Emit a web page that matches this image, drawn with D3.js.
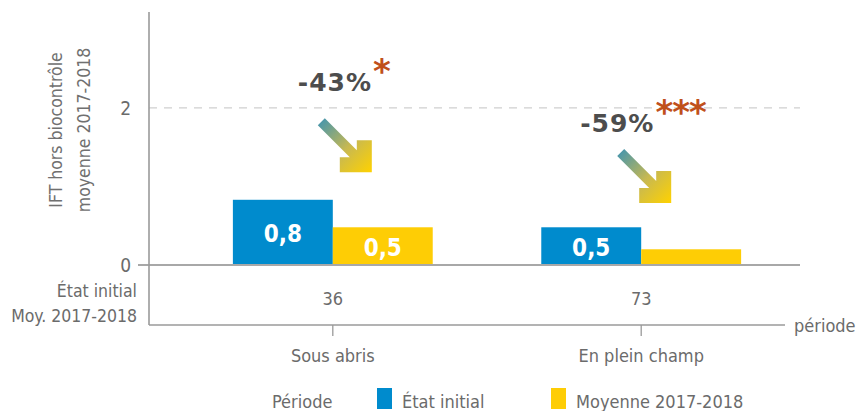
<!DOCTYPE html>
<html>
<head>
<meta charset="utf-8">
<script src="https://cdn.jsdelivr.net/npm/d3@7"></script>
<style>
  body { margin: 0; background: #fff; }
  svg text { font-family: "DejaVu Sans Condensed", "DejaVu Sans", sans-serif; }
</style>
</head>
<body>
<div id="chart"></div>
<script>
// data
const categories = ["Sous abris", "En plein champ"];
const seriesNames = ["État initial", "Moyenne 2017-2018"];
const etatInitial = [0.83, 0.48];
const moyenne = [0.48, 0.2];
const valueLabels = [["0,8", "0,5"], ["0,5", ""]];   // [category][series]
const nExploitations = ["36", "73"];
const changeLabels = ["-43%", "-59%"];
const significance = ["*", "***"];
const yTicks = [0, 2];

const colors = ["#008bcd", "#fecd05"];

const W = 864, H = 411;

const svg = d3.select("#chart").append("svg")
    .attr("width", W)
    .attr("height", H);

// gradient for arrows
const defs = svg.append("defs");
const grad = defs.append("linearGradient")
    .attr("id", "arrowGrad")
    .attr("x1", 0).attr("y1", 0).attr("x2", 1).attr("y2", 1);
grad.append("stop").attr("offset", "0%").attr("stop-color", "#3c93b4");
grad.append("stop").attr("offset", "55%").attr("stop-color", "#c9b950");
grad.append("stop").attr("offset", "100%").attr("stop-color", "#ffd200");

const axisX = 149, axisBottom = 325;

const x = d3.scaleBand()
    .domain(categories)
    .range([149, 825])
    .paddingInner(0.352)
    .paddingOuter(0.272);

const xSub = d3.scaleBand()
    .domain(seriesNames)
    .range([0, x.bandwidth()]);

const y = d3.scaleLinear()
    .domain([0, 3.22])
    .range([265, 12]);

// dashed grid line at 2
svg.append("line")
    .attr("x1", axisX).attr("x2", 800)
    .attr("y1", y(2)).attr("y2", y(2))
    .attr("stroke", "#d0d0d0")
    .attr("stroke-width", 1.3)
    .attr("stroke-dasharray", "8,7");

// y tick labels
svg.selectAll(".ytick")
    .data(yTicks)
    .enter().append("text")
    .attr("class", "ytick")
    .attr("x", 131)
    .attr("y", d => y(d) + 7)
    .attr("text-anchor", "end")
    .style("font-size", "19px")
    .style("fill", "#6b6b6b")
    .text(d => d);

// y axis title
const yTitle = svg.append("text")
    .attr("transform", `translate(0, ${y(0) - 135}) rotate(-90)`)
    .attr("text-anchor", "middle")
    .style("font-size", "17.5px")
    .style("fill", "#707070");
yTitle.append("tspan").attr("x", 0).attr("y", 62).text("IFT hors biocontrôle");
yTitle.append("tspan").attr("x", 0).attr("y", 90).text("moyenne 2017-2018");

// bars
const rows = categories.map((c, i) => ({
    cat: c,
    values: [etatInitial[i], moyenne[i]],
    labels: valueLabels[i]
}));

const groups = svg.selectAll(".grp")
    .data(rows)
    .enter().append("g")
    .attr("class", "grp")
    .attr("transform", d => `translate(${x(d.cat)},0)`);

groups.selectAll("rect")
    .data(d => d.values.map((v, j) => ({ v: v, s: seriesNames[j], j: j, label: d.labels[j] })))
    .enter().append("rect")
    .attr("x", d => xSub(d.s))
    .attr("width", xSub.bandwidth())
    .attr("y", d => y(d.v))
    .attr("height", d => y(0) - y(d.v))
    .attr("fill", d => colors[d.j]);

groups.selectAll(".vlab")
    .data(d => d.values.map((v, j) => ({ v: v, s: seriesNames[j], label: d.labels[j] })))
    .enter().append("text")
    .attr("class", "vlab")
    .attr("x", d => xSub(d.s) + xSub.bandwidth() / 2)
    .attr("y", d => (y(d.v) + y(0)) / 2 + 10)
    .attr("text-anchor", "middle")
    .style("font-size", "24px")
    .style("font-weight", "bold")
    .style("fill", "#fff")
    .text(d => d.label);

// zero line
svg.append("line")
    .attr("x1", 138).attr("x2", 800)
    .attr("y1", y(0)).attr("y2", y(0))
    .attr("stroke", "#a8a8a8")
    .attr("stroke-width", 2);

// vertical axis line + bottom axis
svg.append("line")
    .attr("x1", axisX).attr("x2", axisX)
    .attr("y1", 12).attr("y2", axisBottom)
    .attr("stroke", "#9a9a9a")
    .attr("stroke-width", 1.6);

svg.append("line")
    .attr("x1", axisX).attr("x2", 785)
    .attr("y1", axisBottom).attr("y2", axisBottom)
    .attr("stroke", "#9a9a9a")
    .attr("stroke-width", 1.6);

svg.selectAll(".xtick")
    .data(categories)
    .enter().append("line")
    .attr("class", "xtick")
    .attr("x1", d => x(d) + x.bandwidth() / 2)
    .attr("x2", d => x(d) + x.bandwidth() / 2)
    .attr("y1", axisBottom).attr("y2", axisBottom + 11)
    .attr("stroke", "#9a9a9a")
    .attr("stroke-width", 1.3);

svg.selectAll(".xlab")
    .data(categories)
    .enter().append("text")
    .attr("class", "xlab")
    .attr("x", d => x(d) + x.bandwidth() / 2)
    .attr("y", 362)
    .attr("text-anchor", "middle")
    .style("font-size", "18px")
    .style("fill", "#6b6b6b")
    .text(d => d);

svg.append("text")
    .attr("x", 794).attr("y", 332)
    .style("font-size", "18px")
    .style("fill", "#6b6b6b")
    .text("période");

// row labels and counts
svg.append("text")
    .attr("x", 137).attr("y", 297)
    .attr("text-anchor", "end")
    .style("font-size", "17.5px")
    .style("fill", "#6b6b6b")
    .text("État initial");
svg.append("text")
    .attr("x", 137).attr("y", 322)
    .attr("text-anchor", "end")
    .style("font-size", "17.5px")
    .style("fill", "#6b6b6b")
    .text("Moy. 2017-2018");

svg.selectAll(".nlab")
    .data(nExploitations)
    .enter().append("text")
    .attr("class", "nlab")
    .attr("x", (d, i) => x(categories[i]) + x.bandwidth() / 2)
    .attr("y", 305)
    .attr("text-anchor", "middle")
    .style("font-size", "18px")
    .style("fill", "#6b6b6b")
    .text(d => d);

// annotations: change labels + arrows
const annot = [
    { dx: -35, ty: 2.22, tipDx: 39, tipY: 1.18 },
    { dx: -61, ty: 1.69, tipDx: 30, tipY: 0.79 }
];

const arrowShape = [[0, 0], [0, -32], [-15, -32], [-15, -22], [-47, -54],
                    [-54, -47], [-22, -15], [-32, -15], [-32, 0]];

categories.forEach((c, i) => {
    const cx = x(c) + x.bandwidth() / 2;
    const a = annot[i];
    const t = svg.append("text")
        .attr("x", cx + a.dx)
        .attr("y", y(a.ty))
        .style("font-family", "'DejaVu Sans', sans-serif")
        .style("font-size", "25px")
        .style("font-weight", "bold")
        .style("letter-spacing", "1px")
        .style("fill", "#4d4d4d")
        .text(changeLabels[i]);
    t.append("tspan")
        .attr("dx", 1)
        .attr("dy", -8)
        .style("font-size", "34px")
        .style("fill", "#c0501b")
        .style("letter-spacing", "-1px")
        .text(significance[i]);

    const tx = cx + a.tipDx, ty = y(a.tipY);
    svg.append("polygon")
        .attr("points", arrowShape.map(p => [tx + p[0], ty + p[1]].join(",")).join(" "))
        .attr("fill", "url(#arrowGrad)");
});

// legend
const legY = 408;
svg.append("text")
    .attr("x", 272).attr("y", legY)
    .style("font-size", "18px")
    .style("fill", "#6b6b6b")
    .text("Période");

const legX = [377, 551];
seriesNames.forEach((s, i) => {
    svg.append("rect")
        .attr("x", legX[i]).attr("y", 388)
        .attr("width", 15).attr("height", 21)
        .attr("fill", colors[i]);
    svg.append("text")
        .attr("x", legX[i] + 25).attr("y", legY)
        .style("font-size", "18px")
        .style("fill", "#6b6b6b")
        .text(s);
});
</script>
</body>
</html>
